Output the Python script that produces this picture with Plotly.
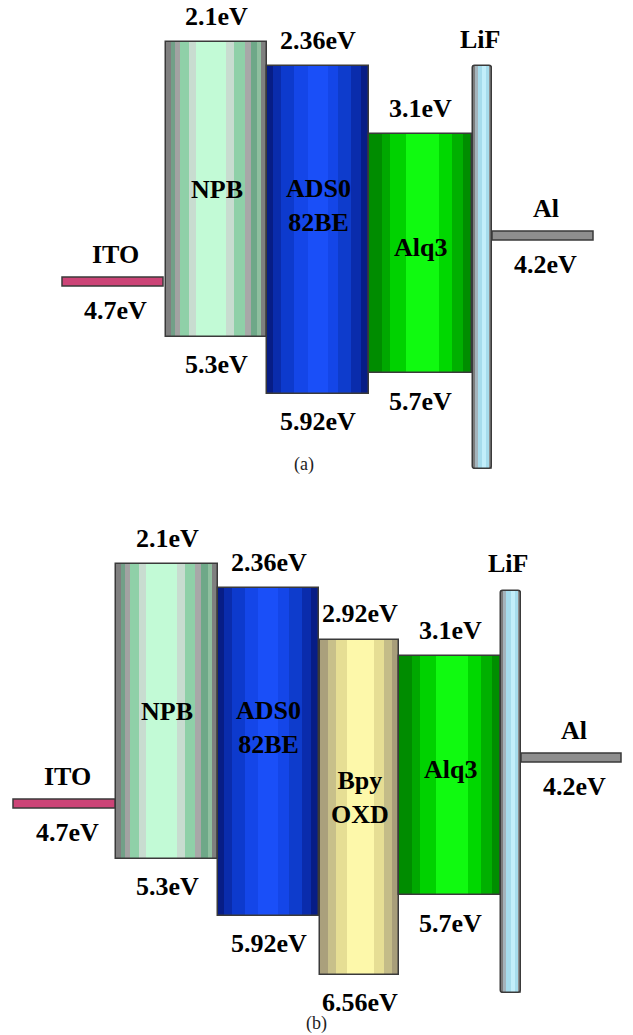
import plotly.graph_objects as go

# ---- energy levels (eV below vacuum) ----
names_a = ["NPB", "ADS0<br>82BE", "Alq3"]
lumo_a = [2.1, 2.36, 3.1]
homo_a = [5.3, 5.92, 5.7]

names_b = ["NPB", "ADS0<br>82BE", "Bpy<br>OXD", "Alq3"]
lumo_b = [2.1, 2.36, 2.92, 3.1]
homo_b = [5.3, 5.92, 6.56, 5.7]

electrodes = ["ITO", "Al"]
work_function = [4.7, 4.2]

# ---- horizontal placement (x axis runs 0..633) ----
center_a = [216.5, 318.0, 420.5]
width_a = [101, 102, 103]
center_b = [167.0, 268.5, 359.5, 450.0]
width_b = [102, 101, 79, 102]
lif_a = dict(center=482.5, width=19, top=2.36, bottom=6.74)
lif_b = dict(center=511.0, width=20, top=2.39, bottom=6.76)
electrode_x_a = [(62, 163), (492, 593)]
electrode_x_b = [(13, 115), (521, 621)]
electrode_color = ["#cc4477", "#8e8e8e"]
name_shift = {"NPB": 0, "ADS0<br>82BE": 24, "Bpy<br>OXD": 10, "Alq3": 6}

# ---- cylinder-like vertical shading: (colour, fraction of width) ----
stripes = {
    "NPB": [("#7f7f7f", 5), ("#72a088", 4), ("#a2a2a2", 5), ("#8fd0a8", 9),
            ("#c8dcd0", 7), ("#c2fad6", 30), ("#c8dcd0", 8), ("#8fd0a8", 10),
            ("#a8a8a8", 6), ("#6ea888", 6), ("#8fbf9f", 4), ("#7f7f7f", 6)],
    "ADS0<br>82BE": [("#071d86", 6), ("#0a2cac", 8), ("#0d3acd", 13), ("#1446e8", 13),
                     ("#1a4ff8", 20), ("#1446e8", 10), ("#0e3ccc", 13), ("#0a2cac", 9),
                     ("#071d86", 8)],
    "Alq3": [("#008c00", 13), ("#00a800", 8), ("#00d200", 15), ("#10fa10", 32),
             ("#00d800", 13), ("#00b000", 10), ("#008e00", 9)],
    "Bpy<br>OXD": [("#aaa07c", 10), ("#c8c08a", 11), ("#e6de94", 13), ("#fdf8aa", 34),
                   ("#e6de94", 13), ("#c4bc88", 10), ("#a89e7a", 9)],
    "LiF": [("#7c7c7c", 12), ("#a4b4bc", 13), ("#a6dcec", 25), ("#c2eefa", 20),
            ("#a6dcec", 15), ("#8e8e8e", 15)],
}

SERIF = "Liberation Serif, Times New Roman, DejaVu Serif, serif"
BOLD = dict(family=SERIF, size=26, color="#000000", weight="bold")
OUTLINE = "#3a3a3a"

fig = go.Figure()
annotations = []
shapes = []


def add_column(center, width, top, bottom, shading, xa, ya, radius=0):
    left = center - width / 2
    total = sum(f for _, f in shading)
    xs, ws, cs = [], [], []
    acc = 0
    for col, f in shading:
        frac = f / total
        xs.append(left + (acc + frac / 2) * width)
        ws.append(frac * width + 0.4)
        cs.append(col)
        acc += frac
    fig.add_trace(go.Bar(
        x=xs, y=[bottom - top] * len(xs), base=[top] * len(xs), width=ws,
        marker=dict(color=cs, line=dict(width=0)),
        xaxis=xa, yaxis=ya, hoverinfo="skip", showlegend=False))
    fig.add_trace(go.Bar(
        x=[center], y=[bottom - top], base=[top], width=[width],
        marker=dict(color="rgba(0,0,0,0)", line=dict(width=1.5, color=OUTLINE),
                    cornerradius=radius),
        xaxis=xa, yaxis=ya, hoverinfo="skip", showlegend=False))


def level_text(v):
    return f"<b>{v:g}eV</b>"


def label(x, y, xr, yr, text, shift):
    annotations.append(dict(x=x, y=y, xref=xr, yref=yr, text=text, showarrow=False,
                            xanchor="center", yanchor="middle", yshift=shift, font=BOLD))


def add_panel(names, lumo, homo, centers, widths, lif, ex, xr, yr):
    for n, lo, hi, c, w in zip(names, lumo, homo, centers, widths):
        add_column(c, w, lo, hi, stripes[n], xr, yr)
        label(c, lo, xr, yr, level_text(lo), 26)
        label(c, hi, xr, yr, level_text(hi), -28)
        label(c, (lo + hi) / 2, xr, yr, f"<b>{n}</b>", name_shift[n])
    # LiF interlayer
    add_column(lif["center"], lif["width"], lif["top"], lif["bottom"],
               stripes["LiF"], xr, yr, radius=3)
    label(lif["center"] - 3, lif["top"], xr, yr, "<b>LiF</b>", 27)
    # electrodes
    for name, wf, (x0, x1), col in zip(electrodes, work_function, ex, electrode_color):
        shapes.append(dict(type="rect", xref=xr, yref=yr, x0=x0, x1=x1,
                           yanchor=wf, ysizemode="pixel", y0=-4.5, y1=4.5,
                           fillcolor=col, line=dict(color=OUTLINE, width=1.5),
                           layer="above"))
        xm = (x0 + x1) / 2 + 3
        label(xm, wf, xr, yr, f"<b>{name}</b>", 27)
        label(xm, wf, xr, yr, level_text(wf), -29)


add_panel(names_a, lumo_a, homo_a, center_a, width_a, lif_a, electrode_x_a, "x", "y")
add_panel(names_b, lumo_b, homo_b, center_b, width_b, lif_b, electrode_x_b, "x2", "y2")

caption = dict(family=SERIF, size=18, color="#222222")
for txt, cx, cy in [("(a)", 304, 464), ("(b)", 316, 1023)]:
    annotations.append(dict(x=cx / 633, y=1 - cy / 1035, xref="paper", yref="paper",
                            xanchor="center", yanchor="middle",
                            text=txt, showarrow=False, font=caption))

axis_off = dict(visible=False, fixedrange=True)
fig.update_layout(
    width=633, height=1035,
    margin=dict(l=0, r=0, t=0, b=0),
    paper_bgcolor="white", plot_bgcolor="white",
    barmode="overlay", bargap=0, showlegend=False,
    xaxis=dict(range=[0, 633], domain=[0, 1], anchor="y", **axis_off),
    xaxis2=dict(range=[0, 633], domain=[0, 1], anchor="y2", **axis_off),
    yaxis=dict(range=[6.859, 1.641], domain=[1 - 480 / 1035, 1], anchor="x", **axis_off),
    yaxis2=dict(range=[7.217, 1.2935], domain=[0, 1 - 490 / 1035], anchor="x2", **axis_off),
    annotations=annotations,
    shapes=shapes,
)

fig.write_html("out.html")
